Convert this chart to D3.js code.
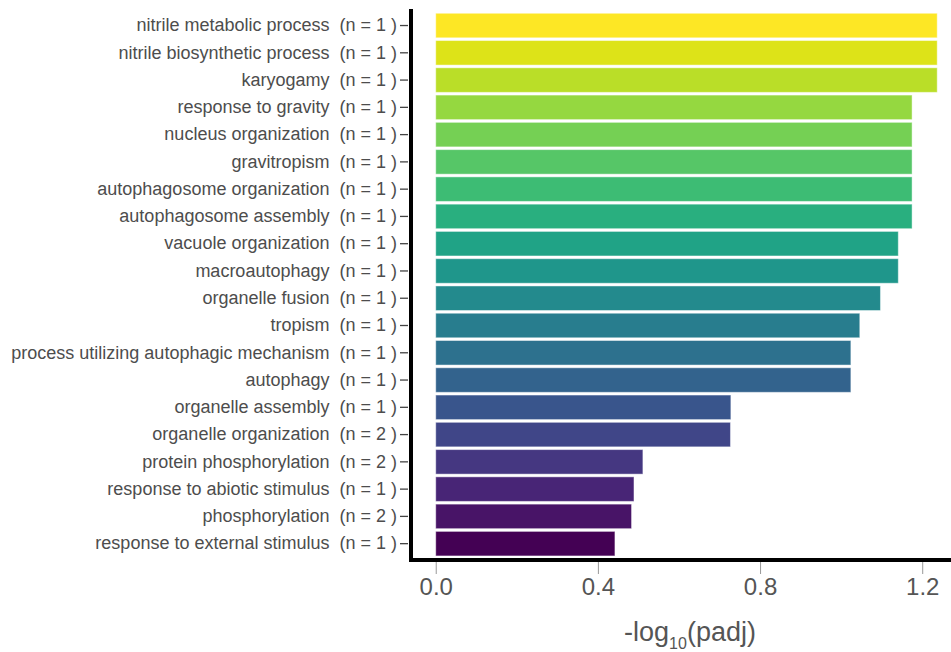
<!DOCTYPE html>
<html>
<head>
<meta charset="utf-8">
<script src="https://cdn.jsdelivr.net/npm/d3@7"></script>
<style>
  html, body { margin: 0; padding: 0; background: #fff; }
  svg { display: block; font-family: "Liberation Sans", Arial, sans-serif; }
</style>
</head>
<body>
<svg id="chart" width="951" height="652"></svg>
<script>
const categories = [
  "nitrile metabolic process",
  "nitrile biosynthetic process",
  "karyogamy",
  "response to gravity",
  "nucleus organization",
  "gravitropism",
  "autophagosome organization",
  "autophagosome assembly",
  "vacuole organization",
  "macroautophagy",
  "organelle fusion",
  "tropism",
  "process utilizing autophagic mechanism",
  "autophagy",
  "organelle assembly",
  "organelle organization",
  "protein phosphorylation",
  "response to abiotic stimulus",
  "phosphorylation",
  "response to external stimulus"
];
const counts = [1,1,1,1,1,1,1,1,1,1,1,1,1,1,1,2,2,1,2,1];
const values = [1.237,1.237,1.237,1.175,1.175,1.175,1.175,1.175,1.141,1.141,1.097,1.046,1.024,1.024,0.728,0.727,0.511,0.489,0.483,0.442];
const xTicks = [0.0, 0.4, 0.8, 1.2];

const svg = d3.select("#chart");
const mLeft = 411, mRight = 951, mTop = 9, mBottom = 560;

const x = d3.scaleLinear().domain([-0.061, 1.271]).range([mLeft, mRight]);
const y = d3.scaleBand().domain(categories).range([11.9, 557.3]).paddingInner(0.1).paddingOuter(0.05);
const color = i => d3.interpolateViridis(1 - i / (categories.length - 1));

// bars
svg.append("g").selectAll("rect")
  .data(categories)
  .join("rect")
  .attr("x", x(0))
  .attr("y", d => y(d))
  .attr("width", (d, i) => x(values[i]) - x(0))
  .attr("height", y.bandwidth())
  .attr("fill", (d, i) => color(i))
  .attr("stroke", "#ffffff")
  .attr("stroke-opacity", 0.45)
  .attr("stroke-width", 1);

// y axis
const yAxis = svg.append("g").attr("transform", `translate(${mLeft - 3},0)`)
  .call(d3.axisLeft(y).tickSize(8).tickPadding(3)
    .tickFormat((d, i) => `${d}\u00a0\u00a0(n = ${counts[i]} )`));
yAxis.select(".domain").remove();
yAxis.selectAll(".tick line").attr("stroke", "#444").attr("stroke-width", 1.3);
yAxis.selectAll(".tick text").attr("fill", "#4d4d4d").style("font-size", "18px")
  .style("font-family", '"Liberation Sans", Arial, sans-serif');

// x axis
const xAxis = svg.append("g").attr("transform", `translate(0,${mBottom + 2})`)
  .call(d3.axisBottom(x).tickValues(xTicks).tickSize(12).tickPadding(4).tickFormat(d3.format(".1f")));
xAxis.select(".domain").remove();
xAxis.selectAll(".tick line").attr("stroke", "#999").attr("stroke-width", 1);
xAxis.selectAll(".tick text").attr("fill", "#555").style("font-size", "24px")
  .style("font-family", '"Liberation Sans", Arial, sans-serif');

// axis lines (thick black)
svg.append("line").attr("x1", mLeft).attr("x2", mLeft).attr("y1", mTop).attr("y2", mBottom + 2)
  .attr("stroke", "#000").attr("stroke-width", 4);
svg.append("line").attr("x1", mLeft - 2).attr("x2", mRight).attr("y1", mBottom).attr("y2", mBottom)
  .attr("stroke", "#000").attr("stroke-width", 4);

// x title
const title = svg.append("text")
  .attr("x", 690).attr("y", 641)
  .attr("text-anchor", "middle")
  .attr("fill", "#555")
  .style("font-size", "27px");
title.append("tspan").text("-log");
title.append("tspan").attr("dy", 8).style("font-size", "16px").text("10");
title.append("tspan").attr("dy", -8).text("(padj)");
</script>
</body>
</html>
